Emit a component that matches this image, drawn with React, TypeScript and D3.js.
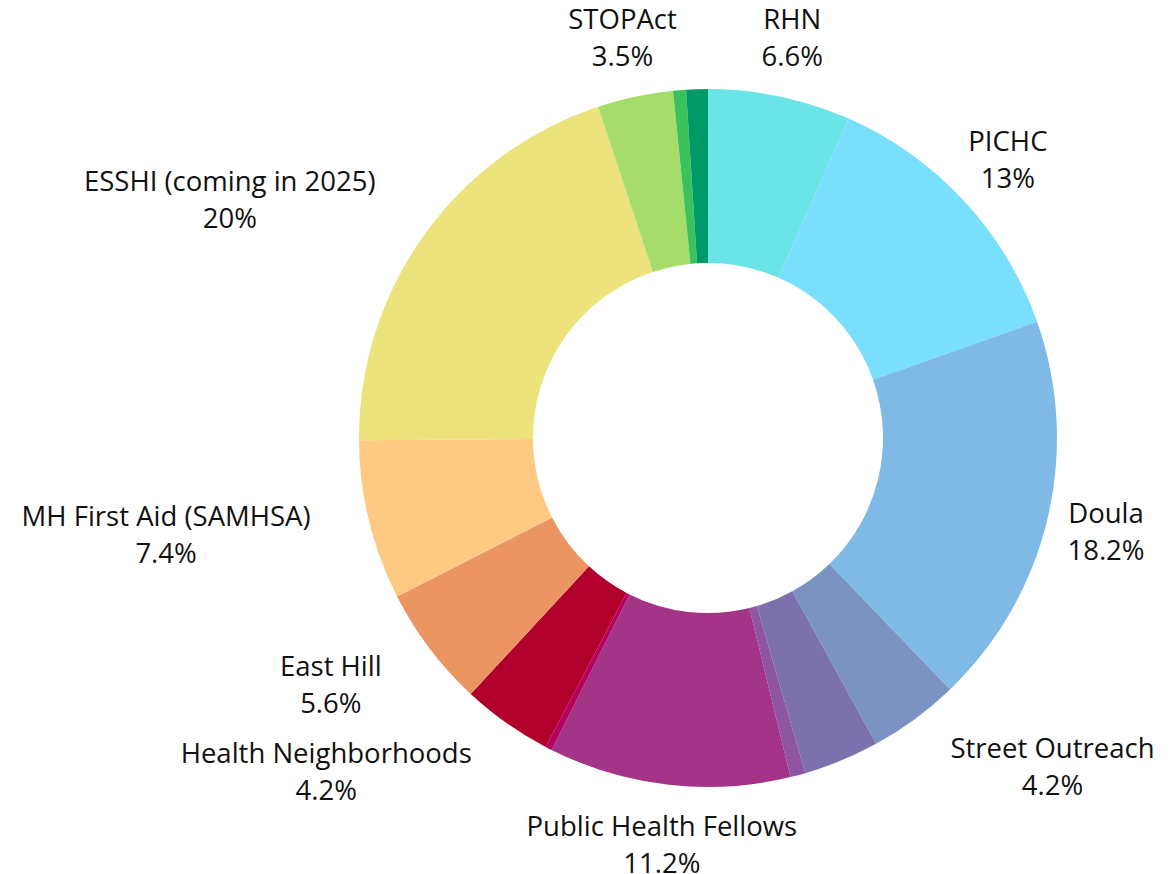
import { useEffect, useRef } from 'react';
import * as d3 from 'd3';

// Slices, clockwise from 12 o'clock
const names = [
  'RHN', 'PICHC', 'Doula', 'Street Outreach', 'Street Outreach 2', 'Other A',
  'Public Health Fellows', 'Other B', 'Health Neighborhoods', 'East Hill',
  'MH First Aid (SAMHSA)', 'ESSHI (coming in 2025)', 'STOPAct', 'Other C', 'Other D',
];
const values = [6.6, 13, 18.2, 4.2, 3.5, 0.7, 11.2, 0.3, 4.2, 5.6, 7.4, 20, 3.5, 0.6, 1.0];
// label text shown beside a slice (empty = no label)
const labels = [
  'RHN', 'PICHC', 'Doula', 'Street Outreach', '', '',
  'Public Health Fellows', '', 'Health Neighborhoods', 'East Hill',
  'MH First Aid (SAMHSA)', 'ESSHI (coming in 2025)', 'STOPAct', '', '',
];
const colors = [
  '#6be4e8', '#7adffd', '#7fbae6', '#7b93c3', '#7b71ad', '#8e55a0',
  '#a33488', '#b6005e', '#b1002b', '#eb9662', '#fdc983', '#ede37c',
  '#a5dc6a', '#3bc25c', '#009a69',
];

const W = 1173;
const H = 874;

export default function App() {
  const svgRef = useRef<SVGSVGElement>(null);

  useEffect(() => {
    if (!svgRef.current) return;
    const svg = d3.select(svgRef.current);
    svg.selectAll('*').remove();

    const cx = 708;
    const cy = 438;
    const outerR = 349;
    const innerR = 175;
    const labelR = 409;
    const fontSize = 27.5;
    const lineGap = 37;

    const data = names.map((n, i) => ({ name: n, value: values[i], label: labels[i], color: colors[i] }));

    const pie = d3.pie<typeof data[number]>().value(d => d.value).sort(null);
    const arcs = pie(data);
    const arc = d3.arc<d3.PieArcDatum<typeof data[number]>>().innerRadius(innerR).outerRadius(outerR);

    const g = svg.append('g').attr('transform', `translate(${cx},${cy})`);

    g.selectAll('path.slice')
      .data(arcs)
      .join('path')
      .attr('class', 'slice')
      .attr('d', arc)
      .attr('fill', d => d.data.color);

    // Labels: centred two-line block placed outside the ring,
    // pushed sideways when the centred block would run into the ring.
    const labelGroup = g.append('g').attr('class', 'labels');
    const fmt = (v: number) => `${v}%`;

    arcs.filter(d => d.data.label).forEach(d => {
      const mid = (d.startAngle + d.endAngle) / 2;
      const ax = labelR * Math.sin(mid);
      const ay = -labelR * Math.cos(mid);

      const t = labelGroup.append('text')
        .attr('font-family', '"Open Sans", sans-serif')
        .attr('font-size', fontSize)
        .attr('fill', '#111')
        .attr('text-anchor', 'middle');
      t.append('tspan').attr('x', 0).attr('y', -lineGap / 2).attr('dy', '0.35em').text(d.data.label);
      t.append('tspan').attr('x', 0).attr('y', lineGap / 2).attr('dy', '0.35em').text(fmt(d.data.value));

      const w = (t.node() as SVGTextElement).getBBox().width;
      const h = lineGap + fontSize;
      const x0 = ax - w / 2, x1 = ax + w / 2, y0 = ay - h / 2, y1 = ay + h / 2;
      const nx = Math.max(x0, Math.min(0, x1));
      const ny = Math.max(y0, Math.min(0, y1));
      const overlap = Math.hypot(nx, ny) < outerR + 2;

      const shift = overlap ? (ax < 0 ? -w / 2 : w / 2) : 0;
      t.attr('transform', `translate(${ax + shift},${ay})`);
    });
  }, []);

  return (
    <svg
      ref={svgRef}
      width={W}
      height={H}
      viewBox={`0 0 ${W} ${H}`}
      style={{ position: 'absolute', left: 0, top: 0, background: '#fff' }}
    />
  );
}
